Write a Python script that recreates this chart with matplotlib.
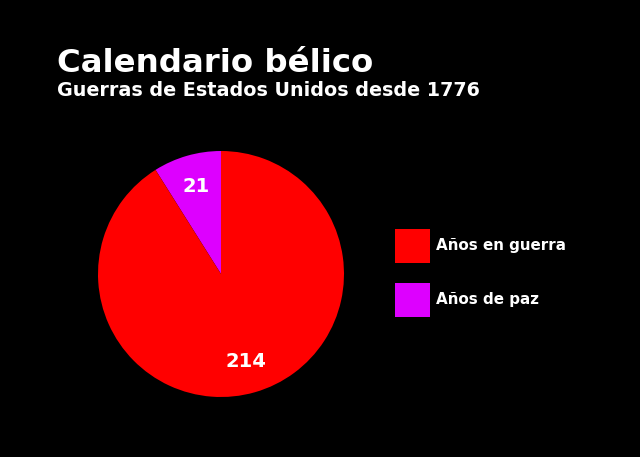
import matplotlib
matplotlib.use("Agg")
import matplotlib.pyplot as plt
from matplotlib.patches import Patch

categories = ["Años en guerra", "Años de paz"]
values = [214, 21]
colors = ["#ff0000", "#dd00ff"]
title = "Calendario bélico"
subtitle = "Guerras de Estados Unidos desde 1776"

plt.rcParams['font.family'] = ['DejaVu Sans']

fig = plt.figure(figsize=(6.4, 4.57), dpi=100, facecolor="black")
ax = fig.add_axes([98/640, 60/457, 246/640, 246/457])
ax.set_facecolor("black")

# draw peace slice first so it sits counterclockwise from 12 o'clock
order = [1, 0]
wedges, texts, autotexts = ax.pie(
    [values[i] for i in order],
    colors=[colors[i] for i in order],
    startangle=90, counterclock=True,
    autopct=lambda p: f"{round(p * sum(values) / 100):d}",
    pctdistance=0.74, radius=1,
    textprops=dict(color="white", fontsize=14, fontweight="bold"),
    wedgeprops=dict(linewidth=0),
)
ax.set_xlim(-1, 1)
ax.set_ylim(-1, 1)
ax.set_aspect("equal")
ax.axis("off")

fig.text(57/640, 1 - 72/457, title, color="white", fontsize=23.3,
         fontweight="bold", ha="left", va="baseline")
fig.text(57/640, 1 - 96/457, subtitle, color="white", fontsize=13.8,
         fontweight="bold", ha="left", va="baseline")

handles = [Patch(facecolor=c, edgecolor="none") for c in colors]
fs = 10.9
fpx = fs * 100 / 72
hh = (34/fpx - 0.245) / 0.65
fig.legend(handles, categories, loc="upper left",
           bbox_to_anchor=(395/640, 1 - 229/457), frameon=False,
           borderpad=0, borderaxespad=0,
           handlelength=35/fpx, handleheight=hh,
           handletextpad=6/fpx, labelspacing=20/fpx,
           prop=dict(size=fs, weight="bold"), labelcolor="white")

fig.savefig("out.png", dpi=100, facecolor="black")
